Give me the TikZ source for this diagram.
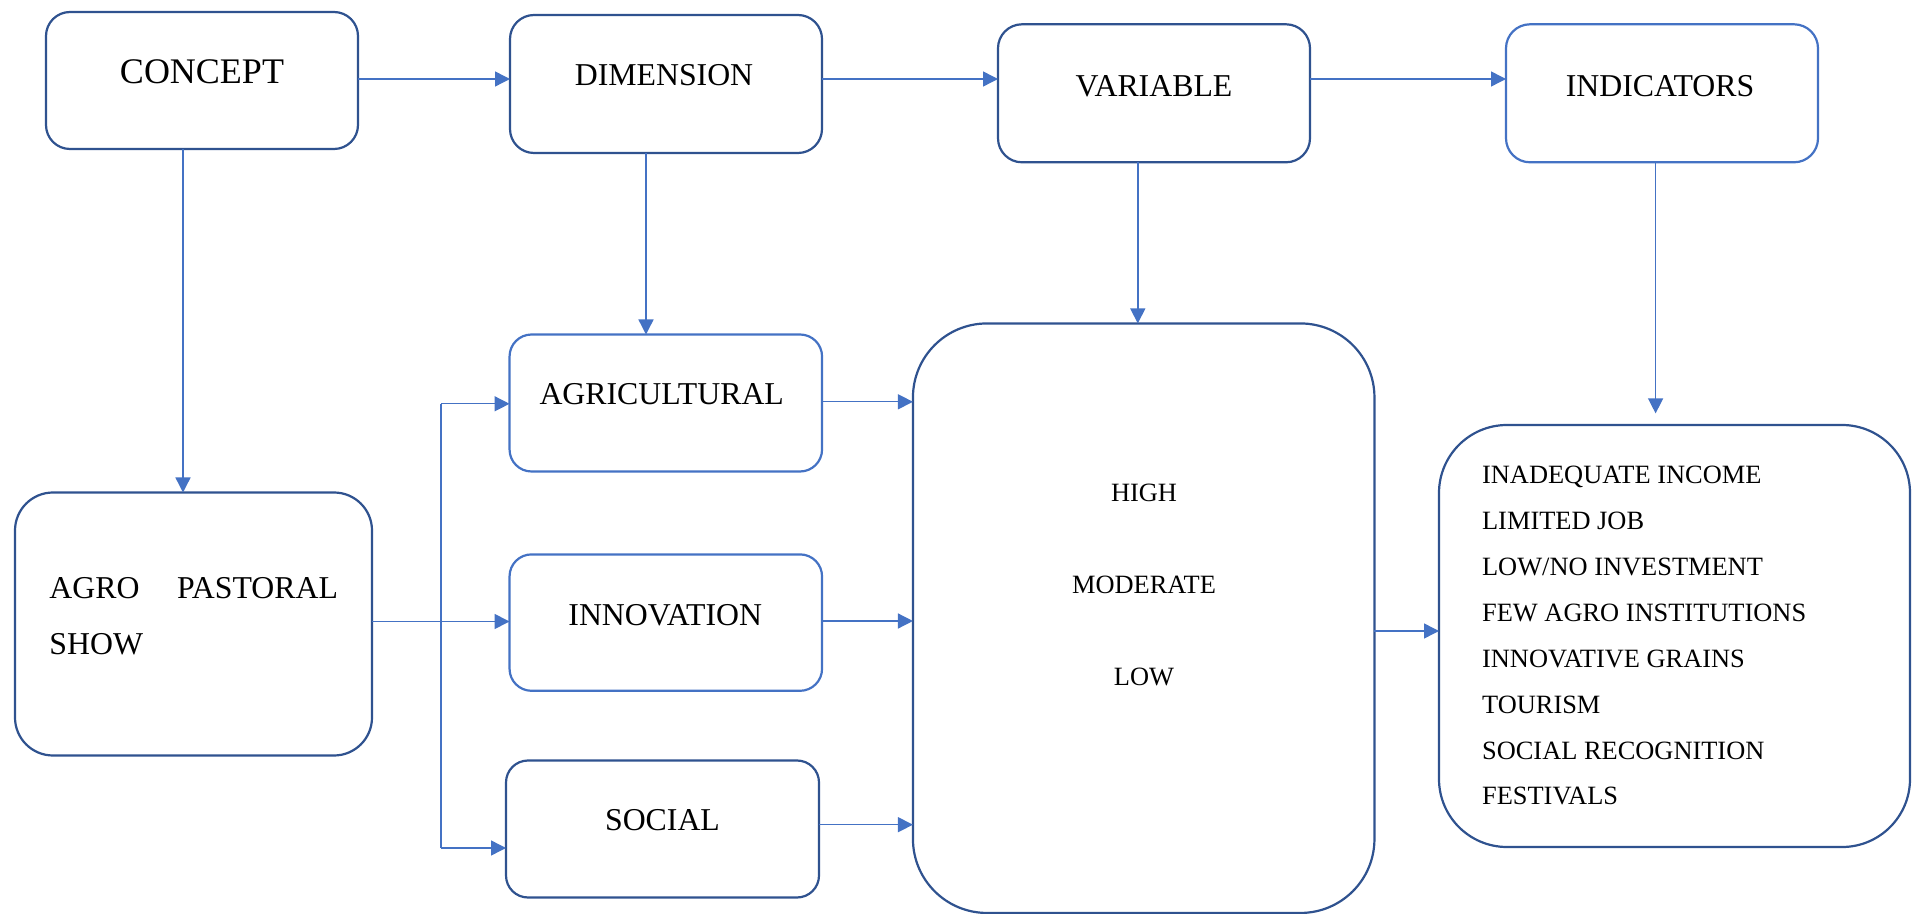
\documentclass[tikz,border=0pt]{standalone}
\usepackage{fontspec}
\setmainfont{Liberation Serif}
\usetikzlibrary{arrows.meta}
\definecolor{boxdark}{HTML}{2F528F}
\definecolor{boxlight}{HTML}{4472C4}
\definecolor{linkblue}{HTML}{4472C4}

\begin{document}
\begin{tikzpicture}[x=0.5pt,y=-0.5pt,
  panel/.style={rectangle, draw=boxdark, line width=1.1pt, fill=white,
                inner sep=0pt, outer sep=0pt},
  lightpanel/.style={panel, draw=boxlight},
  label big/.style={inner sep=0pt, font=\fontsize{18pt}{20pt}\selectfont},
  label mid/.style={inner sep=0pt, font=\fontsize{15.9pt}{18pt}\selectfont},
  label small/.style={inner sep=0pt, font=\fontsize{13.2pt}{15pt}\selectfont},
  arr/.style={draw=linkblue, line width=0.7pt, -{Triangle[length=7.5pt,width=7.5pt]}},
  link/.style={draw=linkblue, line width=0.7pt}
]
\useasboundingbox (0,0) rectangle (1912,914);

% ---- top row ----
\node[panel, rounded corners=12pt, minimum width=156pt, minimum height=68.5pt] (concept) at (202,80.5) {};
\node[panel, rounded corners=12pt, minimum width=156pt, minimum height=69pt] (dimension) at (666,84) {};
\node[panel, rounded corners=12pt, minimum width=156pt, minimum height=69pt] (variable) at (1154,93.3) {};
\node[lightpanel, rounded corners=12pt, minimum width=156pt, minimum height=69pt] (indicators) at (1662,93.3) {};

\node[label big, anchor=base] (conceptT) at (202,83.3) {CONCEPT};
\node[label mid, anchor=base] (dimensionT) at (664,86) {DIMENSION};
\node[label mid, anchor=base] (variableT) at (1154,96.7) {VARIABLE};
\node[label mid, anchor=base] (indicatorsT) at (1660,96.7) {INDICATORS};

% ---- left column ----
\node[panel, rounded corners=19pt, minimum width=178.5pt, minimum height=131.5pt] (agro) at (193.5,624) {};
\node[label mid, anchor=base west] (agroT) at (49,598.3) {\makebox[144.3pt][l]{AGRO\hfill PASTORAL}};
\node[label mid, anchor=base west] (agroT2) at (49,654) {SHOW};

% ---- dimensions ----
\node[lightpanel, rounded corners=11pt, minimum width=156.25pt, minimum height=68.5pt] (agri) at (665.8,403) {};
\node[lightpanel, rounded corners=11pt, minimum width=156.25pt, minimum height=68.2pt] (innov) at (665.8,622.6) {};
\node[panel, rounded corners=11pt, minimum width=156.5pt, minimum height=68.5pt] (social) at (662.5,829) {};

\node[label mid, anchor=base] (agriT) at (661.7,405) {AGRICULTURAL};
\node[label mid, anchor=base] (innovT) at (665.3,625) {INNOVATION};
\node[label mid, anchor=base] (socialT) at (662.5,830.6) {SOCIAL};

% ---- levels ----
\node[panel, rounded corners=37pt, minimum width=230.75pt, minimum height=294.75pt] (high) at (1143.7,618.2) {};
\node[label small, anchor=base] (highT) at (1144,501.7) {HIGH};
\node[label small, anchor=base] (modT) at (1144,593.7) {MODERATE};
\node[label small, anchor=base] (lowT) at (1144,685.7) {LOW};

% ---- indicator list ----
\node[panel, rounded corners=34pt, minimum width=235.5pt, minimum height=211pt] (list) at (1674.5,636) {};
\foreach \t [count=\i] in {INADEQUATE INCOME, LIMITED JOB, LOW/NO INVESTMENT,
    FEW AGRO INSTITUTIONS, INNOVATIVE GRAINS, TOURISM, SOCIAL RECOGNITION, FESTIVALS}
  \node[label small, anchor=base west] (item\i) at (1481.7,{483.3+45.95*(\i-1)}) {\t};

% ---- connectors, top row ----
\draw[arr] (concept.east |- 0,79) -- (dimension.west |- 0,79);
\draw[arr] (dimension.east |- 0,79) -- (variable.west |- 0,79);
\draw[arr] (variable.east |- 0,79) -- (indicators.west |- 0,79);

% ---- connectors, downward ----
\draw[arr] (concept.south -| 183,0) -- (agro.north -| 183,0);
\draw[arr] (dimension.south -| 646,0) -- (agri.north -| 646,0);
\draw[arr] (variable.south -| 1137.8,0) -- (high.north -| 1137.8,0);
\draw[arr, shorten >=5.8pt] (indicators.south -| 1655.6,0) -- (list.north -| 1655.6,0);

% ---- branching from the show ----
\coordinate (trunkTop) at (441,403.8);
\coordinate (trunkBot) at (441,848);
\draw[link] (trunkTop) -- (trunkBot);
\draw[arr] (trunkTop) -- (agri.west |- trunkTop);
\draw[arr] (agro.east |- 0,621.5) -- (innov.west |- 0,621.5);
\draw[arr] (trunkBot) -- (social.west |- trunkBot);

% ---- into the levels box ----
\draw[arr] (agri.east |- 0,401.8) -- (high.west |- 0,401.8);
\draw[arr] (innov.east |- 0,621) -- (high.west |- 0,621);
\draw[arr] (social.east |- 0,824.7) -- (high.west |- 0,824.7);

% ---- levels to indicators ----
\draw[arr] (high.east |- 0,631) -- (list.west |- 0,631);
\end{tikzpicture}
\end{document}
